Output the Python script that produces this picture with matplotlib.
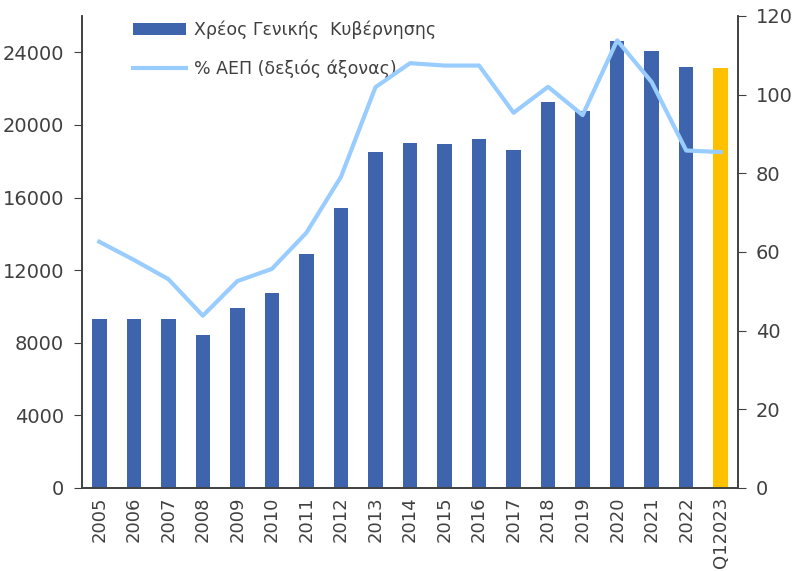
import numpy as np
import matplotlib
matplotlib.use('Agg')
import matplotlib.pyplot as plt

years = ['2005', '2006', '2007', '2008', '2009', '2010', '2011', '2012', '2013', '2014',
         '2015', '2016', '2017', '2018', '2019', '2020', '2021', '2022', 'Q12023']
debt = [9300, 9300, 9300, 8400, 9900, 10750, 12900, 15450, 18500, 19000,
        18950, 19250, 18620, 21250, 20750, 24600, 24050, 23200, 23120]
pct_gdp = [62.6, 58.0, 53.1, 43.8, 52.6, 55.7, 64.9, 79.1, 101.9, 108.0,
           107.4, 107.4, 95.4, 102.0, 94.8, 113.8, 103.2, 85.8, 85.4]

plt.rcParams['font.family'] = ['DejaVu Sans']
txt = '#404040'

fig = plt.figure(figsize=(8, 5.71), dpi=100)
ax = fig.add_axes([0.1025, 0.1454, 0.82, 0.8266])
ax2 = ax.twinx()

x = np.arange(len(years))
colors = ['#3D64AD'] * (len(years) - 1) + ['#FFC000']
bars = ax.bar(x, debt, width=0.42, color=colors, zorder=2, label='Χρέος Γενικής  Κυβέρνησης')
line, = ax2.plot(x, pct_gdp, color='#99CCFF', linewidth=3.0, label='% ΑΕΠ (δεξιός άξονας)')

ax.set_xlim(-0.5, len(years) - 0.5)
ax.set_ylim(0, 26000)
ax.set_yticks(np.arange(0, 24001, 4000))
ax2.set_ylim(0, 120)
ax2.set_yticks(np.arange(0, 121, 20))

ax.set_xticks(x)
ax.set_xticklabels(years, rotation=90, fontsize=13, color=txt)
ax.tick_params(axis='x', length=0, pad=6)
ax.tick_params(axis='y', labelsize=14, colors=txt, length=6, direction='out', pad=7)
ax2.tick_params(axis='y', labelsize=14, colors=txt, length=6, direction='out', pad=7)

for a in (ax, ax2):
    a.spines['top'].set_visible(False)
    for s in ('left', 'right', 'bottom'):
        a.spines[s].set_color('#404040')
        a.spines[s].set_linewidth(1.2)

ax.legend([bars, line], [bars.get_label(), line.get_label()],
          loc='upper left', bbox_to_anchor=(0.077, 0.99), frameon=False,
          borderpad=0, borderaxespad=0,
          fontsize=12.5, handlelength=3.1, handletextpad=0.45,
          labelspacing=1.15, labelcolor=txt)

plt.savefig('out.png', dpi=100)
